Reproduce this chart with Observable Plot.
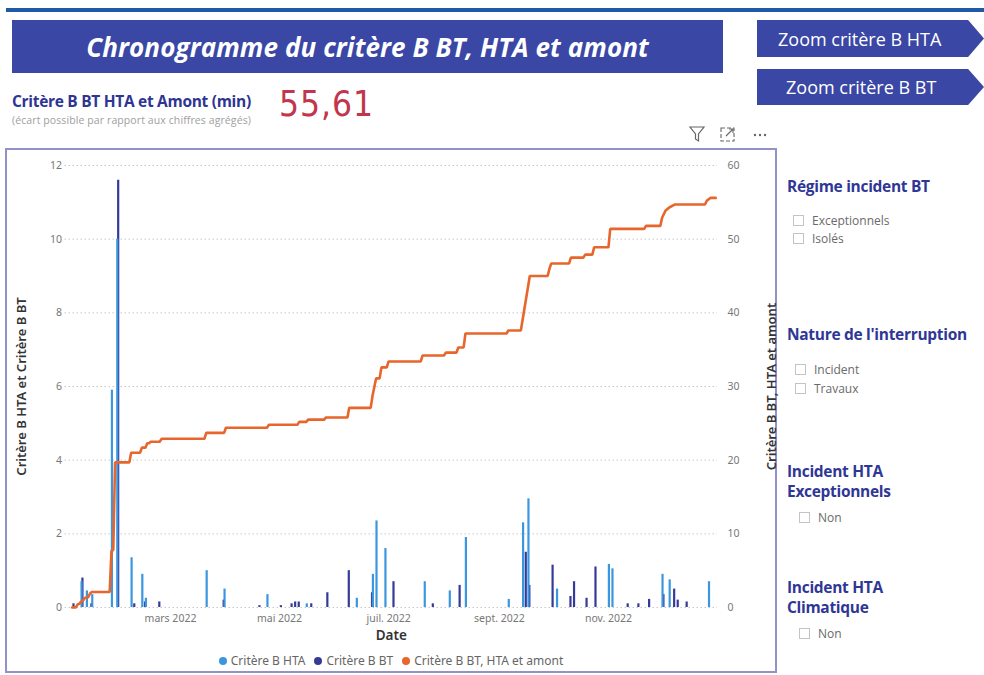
<!DOCTYPE html>
<html><head><meta charset="utf-8">
<script src="https://cdn.jsdelivr.net/npm/d3@7"></script>
<script src="https://cdn.jsdelivr.net/npm/@observablehq/plot@0.6"></script>
<style>
body{margin:0;width:984px;height:675px;position:relative;overflow:hidden;background:#fff;font-family:"Open Sans","Noto Sans",sans-serif;}
.abs{position:absolute;white-space:nowrap}
.topline{left:6px;top:8px;width:978px;height:4px;background:#1f5aa6}
.banner{left:12px;top:20px;width:711px;height:53px;background:#3a47a4;color:#fff;font-weight:700;font-style:italic;font-size:26px;display:flex;align-items:center;justify-content:center;letter-spacing:0.1px}
.btn{left:757px;width:227px;background:#3a47a4;color:#fff;font-size:18px;display:flex;align-items:center;padding-left:21px;box-sizing:border-box;clip-path:polygon(0 0,93% 0,100% 50%,93% 100%,0 100%)}
.kpititle{left:12px;top:90px;font-size:15.5px;font-weight:700;color:#2e3592;letter-spacing:-0.3px}
.kpisub{left:12px;top:113px;font-size:10.5px;color:#a0a0a0;letter-spacing:0.1px}
.kpi{left:279px;top:84px;font-family:"DejaVu Sans Condensed","DejaVu Sans",sans-serif;font-size:35px;color:#c3354c;letter-spacing:1px}
.box{left:5px;top:148px;width:772px;height:525px;border:2px solid #9092c8;box-sizing:border-box}
.slt{font-weight:700;font-size:15.5px;color:#2f3796;letter-spacing:-0.3px;line-height:20px}
.item{font-size:12px;color:#6a6a6a;display:flex;align-items:center}
.cb{width:11px;height:11px;border:1px solid #c4c4c4;margin-right:8px;box-sizing:border-box}
.legend{left:5px;top:652px;width:772px;display:flex;justify-content:center;font-family:"Noto Sans",sans-serif;font-size:12px;color:#666;gap:9px}
.legend span{display:flex;align-items:center}
.dot{width:8px;height:8px;border-radius:50%;display:inline-block;margin-right:4px}
</style></head><body>
<div class="abs topline"></div>
<div class="abs banner">Chronogramme du critère B BT, HTA et amont</div>
<div class="abs btn" style="top:20px;height:37px">Zoom critère B HTA</div>
<div class="abs btn" style="top:69px;height:36px;padding-left:29px">Zoom critère B BT</div>
<div class="abs kpititle">Critère B BT HTA et Amont (min)</div>
<div class="abs kpisub">(écart possible par rapport aux chiffres agrégés)</div>
<div class="abs kpi">55,61</div>
<svg class="abs" style="left:688px;top:124px" width="90" height="20">
  <path d="M2 3 L16 3 L10.5 10 L10.5 17 L7.5 15 L7.5 10 Z" fill="none" stroke="#666" stroke-width="1.2"/>
  <rect x="33" y="4" width="13" height="13" fill="none" stroke="#666" stroke-width="1.1" stroke-dasharray="4,2"/>
  <path d="M38 12 L45 5 M41 5 L45 5 L45 9" fill="none" stroke="#666" stroke-width="1.1"/>
  <circle cx="67" cy="11" r="1.2" fill="#666"/><circle cx="72" cy="11" r="1.2" fill="#666"/><circle cx="77" cy="11" r="1.2" fill="#666"/>
</svg>
<div class="abs box"></div>
<div id="chart" class="abs" style="left:5px;top:150px"></div>
<div class="abs legend">
  <span><i class="dot" style="background:#3b96e0"></i>Critère B HTA</span>
  <span><i class="dot" style="background:#353a98"></i>Critère B BT</span>
  <span><i class="dot" style="background:#e8652c"></i>Critère B BT, HTA et amont</span>
</div>
<div class="abs slt" style="left:787px;top:176px">Régime incident BT</div>
<div class="abs item" style="left:793px;top:212px"><i class="cb"></i>Exceptionnels</div>
<div class="abs item" style="left:793px;top:230px"><i class="cb"></i>Isolés</div>
<div class="abs slt" style="left:787px;top:324px">Nature de l'interruption</div>
<div class="abs item" style="left:795px;top:361px"><i class="cb"></i>Incident</div>
<div class="abs item" style="left:795px;top:380px"><i class="cb"></i>Travaux</div>
<div class="abs slt" style="left:787px;top:461px">Incident HTA<br>Exceptionnels</div>
<div class="abs item" style="left:799px;top:509px"><i class="cb"></i>Non</div>
<div class="abs slt" style="left:787px;top:577px">Incident HTA<br>Climatique</div>
<div class="abs item" style="left:799px;top:625px"><i class="cb"></i>Non</div>
<script>
// ---- data ----
const htaDates = ["2022-01-10","2022-01-13","2022-01-16","2022-01-27","2022-01-30","2022-02-07","2022-02-13","2022-02-15","2022-03-21","2022-03-31","2022-04-24","2022-05-16","2022-06-13","2022-06-22","2022-06-24","2022-06-29","2022-07-21","2022-08-04","2022-08-13","2022-09-06","2022-09-14","2022-09-17","2022-10-03","2022-11-01","2022-11-03","2022-12-01","2022-12-05","2022-12-27"];
const htaValues = [0.7,0.45,0.35,5.9,10.0,1.35,0.9,0.25,1.0,0.5,0.35,0.1,0.25,0.9,2.35,1.6,0.7,0.45,1.9,0.22,2.3,2.95,0.5,1.17,1.05,0.9,0.75,0.7];
const btDates = ["2022-01-05","2022-01-10","2022-01-15","2022-01-30","2022-02-08","2022-02-14","2022-02-22","2022-03-30","2022-04-19","2022-05-01","2022-05-07","2022-05-09","2022-05-11","2022-05-18","2022-05-27","2022-06-08","2022-06-21","2022-07-03","2022-07-25","2022-08-09","2022-09-15","2022-09-17","2022-09-30","2022-10-10","2022-10-12","2022-10-19","2022-10-24","2022-11-11","2022-11-17","2022-11-23","2022-12-01","2022-12-07","2022-12-09","2022-12-14"];
const btValues = [0.1,0.8,0.1,11.6,0.1,0.15,0.15,0.2,0.05,0.05,0.1,0.15,0.15,0.1,0.4,1.0,0.4,0.7,0.1,0.6,1.5,0.6,1.15,0.3,0.7,0.25,1.1,0.1,0.1,0.22,0.35,0.5,0.2,0.15];
const lineDates = ["2022-01-05","2022-01-07","2022-01-08","2022-01-09","2022-01-10","2022-01-11","2022-01-12","2022-01-14","2022-01-15","2022-01-16","2022-01-26","2022-01-27","2022-01-28","2022-01-29","2022-02-06","2022-02-07","2022-02-12","2022-02-13","2022-02-15","2022-02-16","2022-02-17","2022-02-18","2022-02-23","2022-02-24","2022-03-20","2022-03-21","2022-03-31","2022-04-01","2022-04-24","2022-04-25","2022-05-11","2022-05-12","2022-05-16","2022-05-17","2022-05-26","2022-05-27","2022-06-08","2022-06-09","2022-06-21","2022-06-22","2022-06-24","2022-06-26","2022-06-27","2022-06-30","2022-07-01","2022-07-19","2022-07-20","2022-08-01","2022-08-02","2022-08-08","2022-08-09","2022-08-12","2022-08-13","2022-09-05","2022-09-06","2022-09-13","2022-09-18","2022-09-28","2022-09-29","2022-09-30","2022-10-10","2022-10-11","2022-10-18","2022-10-19","2022-10-23","2022-10-24","2022-11-01","2022-11-02","2022-11-21","2022-11-22","2022-11-30","2022-12-01","2022-12-03","2022-12-05","2022-12-08","2022-12-25","2022-12-26","2022-12-28","2022-12-31"];
const lineValues = [0,0,0.4,0.5,0.8,0.9,1.3,1.4,1.9,2.1,2.1,7.7,7.8,19.7,19.7,21.0,21.0,21.7,21.7,22.3,22.3,22.5,22.5,22.9,22.9,23.7,23.7,24.4,24.4,24.8,24.8,25.2,25.2,25.5,25.5,25.8,25.8,27.1,27.1,28.7,31.1,31.1,32.6,32.6,33.4,33.4,34.2,34.2,34.6,34.6,35.3,35.3,37.2,37.2,37.6,37.6,45.0,45.0,46.0,46.7,46.7,47.5,47.5,47.9,47.9,48.9,48.9,51.4,51.4,51.8,51.8,52.9,53.9,54.3,54.7,54.7,55.2,55.6,55.6];
const monthTicks = ["2022-03-01","2022-05-01","2022-07-01","2022-09-01","2022-11-01"];
const monthLabels = ["mars 2022","mai 2022","juil. 2022","sept. 2022","nov. 2022"];
const leftTicks = [0,2,4,6,8,10,12];
const rightTicks = [0,10,20,30,40,50,60];
const leftTitle = "Critère B HTA et Critère B BT";
const rightTitle = "Critère B BT, HTA et amont";
const xTitle = "Date";

// ---- build ----
const parse = d3.utcParse("%Y-%m-%d");
const ratio = rightTicks[rightTicks.length-1] / leftTicks[leftTicks.length-1];
const hta = htaDates.map((d,i)=>({date:parse(d), value:htaValues[i]}));
const bt = btDates.map((d,i)=>({date:parse(d), value:btValues[i]}));
const line = lineDates.map((d,i)=>({date:parse(d), value:lineValues[i]}));
const months = monthTicks.map((d,i)=>({date:parse(d), label:monthLabels[i]}));
const C_HTA="#3b96e0", C_BT="#353a98", C_LINE="#e8652c";

const chart = Plot.plot({
  width:772, height:524,
  marginLeft:59.5, marginRight:60, marginTop:15, marginBottom:67,
  x:{type:"utc", domain:[parse("2022-01-01"), parse("2023-01-01")], axis:null},
  y:{domain:[0,12], axis:null},
  style:{fontFamily:"Noto Sans, sans-serif", fontSize:"10.5px", color:"#777", background:"transparent", overflow:"visible"},
  marks:[
    Plot.gridY(leftTicks, {stroke:"#c8c8c8", strokeOpacity:1, strokeDasharray:"1.5,2.5", strokeWidth:1}),
    Plot.ruleX(bt, {x:d=>d3.utcHour.offset(d.date,18), y1:0, y2:"value", stroke:C_BT, strokeWidth:2.2}),
    Plot.ruleX(hta, {x:d=>d3.utcHour.offset(d.date,6), y1:0, y2:"value", stroke:C_HTA, strokeWidth:2.2}),
    Plot.line(line, {x:"date", y:d=>d.value/ratio, stroke:C_LINE, strokeWidth:2.6, strokeLinejoin:"miter"}),
    Plot.axisY({ticks:leftTicks, tickSize:0, tickPadding:3, label:null, fill:"#777"}),
    Plot.text(rightTicks, {frameAnchor:"right", y:d=>d/ratio, text:d=>String(d), dx:10, textAnchor:"start", fill:"#777"}),
    Plot.text(months, {x:"date", y:0, text:"label", dy:11, fill:"#777"}),
    Plot.text([xTitle], {frameAnchor:"bottom", dy:32, fill:"#333", fontSize:13.5, fontWeight:600}),
    Plot.text([leftTitle], {frameAnchor:"left", textAnchor:"middle", rotate:-90, dx:-43, fill:"#333", fontSize:13, fontWeight:600}),
    Plot.text([rightTitle], {frameAnchor:"right", textAnchor:"middle", rotate:-90, dx:54, fill:"#333", fontSize:13, fontWeight:600})
  ]
});
document.getElementById("chart").appendChild(chart);
</script>
</body></html>
